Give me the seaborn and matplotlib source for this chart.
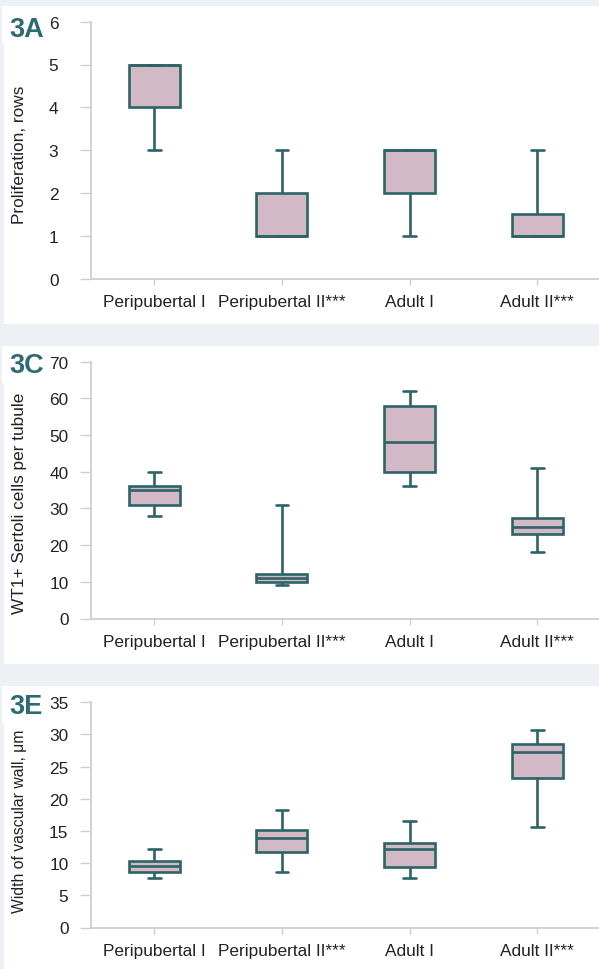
import numpy as np
import pandas as pd
import matplotlib
matplotlib.use("Agg")
import matplotlib.pyplot as plt
from matplotlib.patches import Rectangle
import seaborn as sns

sns.set_style("white")
plt.rcParams['font.family'] = ['Liberation Sans', 'DejaVu Sans']

# ---------------- data ----------------
categories = ["Peripubertal I", "Peripubertal II***", "Adult I", "Adult II***"]

# five-number summaries per group: [min, q1, median, q3, max]
prolif_pi = [3, 4, 5, 5, 5]
prolif_pii = [1, 1, 1, 2, 3]
prolif_ai = [1, 2, 3, 3, 3]
prolif_aii = [1, 1, 1, 1.5, 3]

sertoli_pi = [28, 31, 35, 36, 40]
sertoli_pii = [9, 10, 11, 12, 31]
sertoli_ai = [36, 40, 48, 58, 62]
sertoli_aii = [18, 23, 25, 27.5, 41]

wall_pi = [7.7, 8.6, 9.5, 10.4, 12.2]
wall_pii = [8.6, 11.8, 13.9, 15.2, 18.3]
wall_ai = [7.7, 9.4, 12.2, 13.1, 16.5]
wall_aii = [15.6, 23.2, 27.2, 28.5, 30.7]

panel_labels = ["3A", "3C", "3E"]
y_labels = ["Proliferation, rows", "WT1+ Sertoli cells per tubule",
            "Width of vascular wall, μm"]
y_ticks_a = [0, 1, 2, 3, 4, 5, 6]
y_ticks_c = [0, 10, 20, 30, 40, 50, 60, 70]
y_ticks_e = [0, 5, 10, 15, 20, 25, 30, 35]


def make_df(groups):
    rows = []
    for cat, vals in zip(categories, groups):
        for v in vals:
            rows.append({"group": cat, "value": v})
    return pd.DataFrame(rows)


df_a = make_df([prolif_pi, prolif_pii, prolif_ai, prolif_aii])
df_c = make_df([sertoli_pi, sertoli_pii, sertoli_ai, sertoli_aii])
df_e = make_df([wall_pi, wall_pii, wall_ai, wall_aii])

# ---------------- style ----------------
W, H = 599, 970
BG = "#edf1f5"
FILL = "#d3b9c5"
EDGE = "#2d6468"
SPINE = "#cfcfcf"
LABEL_COL = "#2b6b71"
TEXT = "#222222"

fig = plt.figure(figsize=(W / 100, H / 100), dpi=100)
fig.patch.set_facecolor(BG)


def fx(px):
    return px / W


def fy(py):
    return 1 - py / H


# white panels
panels = [(7, 325), (347, 665), (687, 970)]
for top, bot in panels:
    fig.add_artist(Rectangle((fx(4), fy(bot)), fx(W - 4), (bot - top) / H,
                             transform=fig.transFigure, facecolor="white",
                             edgecolor="none", zorder=0))
    fig.add_artist(Rectangle((fx(2), fy(top + 37)), fx(43), 37 / H,
                             transform=fig.transFigure, facecolor="white",
                             edgecolor="none", zorder=0))

axes_spec = [
    (df_a, 22.7, 279.5, y_ticks_a, 21, 155, 12.4),
    (df_c, 362.7, 619.5, y_ticks_c, 11, 503, 12.4),
    (df_e, 703.3, 928.5, y_ticks_e, 11, 821, 11.3),
]

left_px, right_px = 90.5, 601.0
for i, (df, top, bot, yt, ypad, ylab_y, ylab_fs) in enumerate(axes_spec):
    ax = fig.add_axes([fx(left_px), fy(bot), fx(right_px - left_px),
                       (bot - top) / H])
    ax.set_facecolor("none")
    sns.boxplot(data=df, x="group", y="value", ax=ax, whis=(0, 100),
                color=FILL, linecolor=EDGE, linewidth=1.9, width=0.4,
                saturation=1, fliersize=0, capwidths=0.1)
    ax.set_xlim(-0.5, 3.5)
    ax.set_ylim(yt[0], yt[-1])
    ax.set_yticks(yt)
    ax.set_xlabel("")
    ax.set_ylabel("")
    for s in ["top", "right"]:
        ax.spines[s].set_visible(False)
    for s in ["left", "bottom"]:
        ax.spines[s].set_color(SPINE)
        ax.spines[s].set_linewidth(1.3)
    ax.tick_params(axis="y", length=8, width=1.0, color=SPINE, pad=ypad * 0.72,
                   labelsize=12.4, labelcolor=TEXT, left=True)
    ax.tick_params(axis="x", length=4.5, width=1.0, color=SPINE, pad=7,
                   labelsize=12.4, labelcolor=TEXT, bottom=True)
    fig.text(fx(20), fy(ylab_y), y_labels[i], rotation=90, ha="center",
             va="center", fontsize=ylab_fs, color=TEXT)
    fig.text(fx(9), fy(top - 22.7 + 37 if i == 0 else top - 5.5 + 16.3),
             panel_labels[i], fontsize=19.5, fontweight="bold",
             color=LABEL_COL, ha="left", va="baseline")

fig.savefig("out.png", dpi=100, facecolor=BG)
